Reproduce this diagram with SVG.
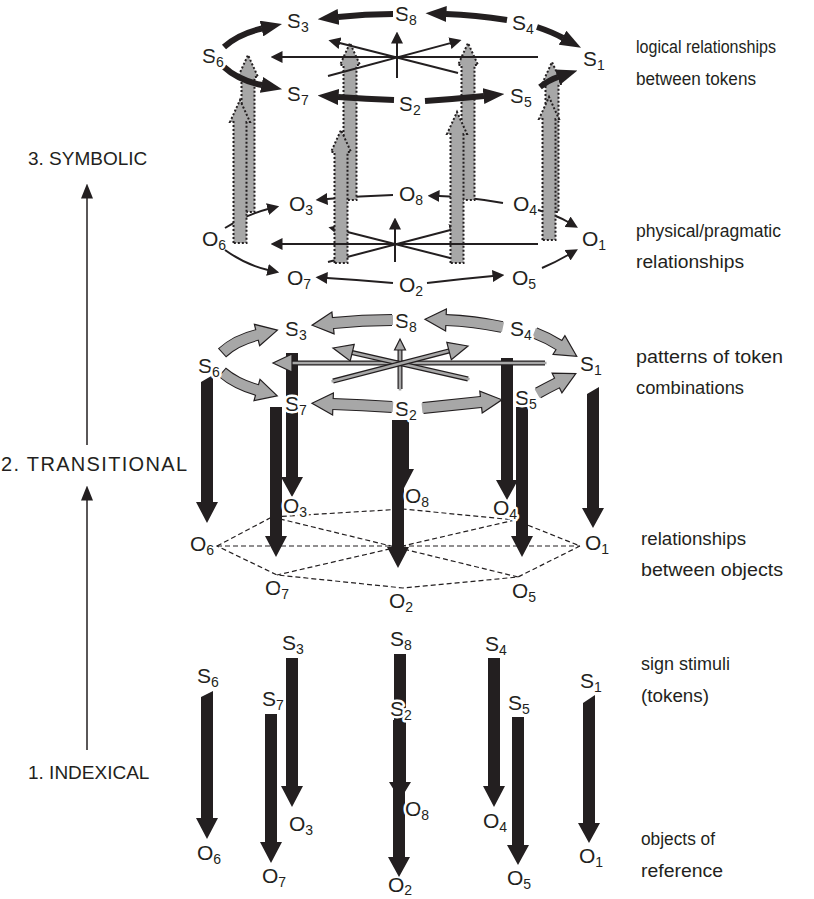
<svg xmlns="http://www.w3.org/2000/svg" width="814" height="899" viewBox="0 0 814 899">
<style>
text{font-family:"Liberation Sans",Arial,sans-serif;fill:#231f20}
.lab{font-size:21px}
.sub{font-size:14px}
.halo{stroke:#fff;stroke-width:5px;paint-order:stroke;stroke-linejoin:round}
.side{font-size:17.5px}
.lvl{font-size:19px}
.thk{fill:none;stroke:#231f20;stroke-width:6;marker-end:url(#hk)}
.thn{fill:none;stroke:#231f20;stroke-width:2;marker-end:url(#ht)}
.gdot{fill:#a7a7a7;stroke:#231f20;stroke-width:2;stroke-dasharray:2 2}
.bar{fill:#231f20}
.gout{fill:none;stroke:#231f20;stroke-width:12}
.gin{fill:none;stroke:#a7a7a7;stroke-width:10}
.ghead{fill:#a7a7a7;stroke:#231f20;stroke-width:1.2;stroke-linejoin:miter}
.dout{fill:none;stroke:#231f20;stroke-width:5}
.din{fill:none;stroke:#a7a7a7;stroke-width:2.6}
.dash{fill:none;stroke:#231f20;stroke-width:1.2;stroke-dasharray:5 3}
.axis{fill:none;stroke:#231f20;stroke-width:1.5}
</style>
<defs>
<marker id="hk" viewBox="0 0 21 16" refX="0.5" refY="8" markerWidth="21" markerHeight="16" markerUnits="userSpaceOnUse" orient="auto"><path d="M0,0 L21,8 L0,16 z" fill="#231f20"/></marker>
<marker id="ht" viewBox="0 0 12 12" refX="0.5" refY="6" markerWidth="12" markerHeight="12" markerUnits="userSpaceOnUse" orient="auto"><path d="M0,0 L12,6 L0,12 z" fill="#231f20"/></marker>
<marker id="ha" viewBox="0 0 15 12" refX="0.5" refY="6" markerWidth="15" markerHeight="12" markerUnits="userSpaceOnUse" orient="auto"><path d="M0,0 L15,6 L0,12 z" fill="#231f20"/></marker>
</defs>

<!-- left level axis -->
<g id="axis">
<path class="axis" d="M87,750 L87,500" marker-end="url(#ha)"/>
<path class="axis" d="M87,445 L87,198" marker-end="url(#ha)"/>
<text class="lvl" x="28" y="165">3. SYMBOLIC</text>
<text class="lvl" x="1" y="471" style="font-size:20px" textLength="186">2. TRANSITIONAL</text>
<text class="lvl" x="28" y="779">1. INDEXICAL</text>
</g>

<!-- right captions -->
<g id="captions">
<text class="side" x="636" y="53" textLength="140" lengthAdjust="spacingAndGlyphs">logical relationships</text>
<text class="side" x="636" y="85" textLength="120" lengthAdjust="spacingAndGlyphs">between tokens</text>
<text class="side" x="636" y="237" textLength="145" lengthAdjust="spacingAndGlyphs">physical/pragmatic</text>
<text class="side" x="636" y="268" textLength="108" lengthAdjust="spacingAndGlyphs">relationships</text>
<text class="side" x="636" y="363" textLength="147" lengthAdjust="spacingAndGlyphs">patterns of token</text>
<text class="side" x="636" y="394" textLength="108" lengthAdjust="spacingAndGlyphs">combinations</text>
<text class="side" x="641" y="545" textLength="105" lengthAdjust="spacingAndGlyphs">relationships</text>
<text class="side" x="641" y="576" textLength="142" lengthAdjust="spacingAndGlyphs">between objects</text>
<text class="side" x="641" y="670" textLength="89" lengthAdjust="spacingAndGlyphs">sign stimuli</text>
<text class="side" x="641" y="702" textLength="68" lengthAdjust="spacingAndGlyphs">(tokens)</text>
<text class="side" x="641" y="845" textLength="74" lengthAdjust="spacingAndGlyphs">objects of</text>
<text class="side" x="641" y="877" textLength="82" lengthAdjust="spacingAndGlyphs">reference</text>
</g>

<!-- ===== SYMBOLIC LEVEL ===== -->
<g id="connectors-symbolic-objects">
<path class="thn" d="M225,228 Q248,214 268,209"/>
<path class="thn" d="M225,250 Q246,265 268,270"/>
<path class="thn" d="M393,195 Q360,196 327,199"/>
<path class="thn" d="M393,283 Q360,280 327,278"/>
<path class="thn" d="M503,203 Q470,197 439,196"/>
<path class="thn" d="M538,210 Q556,215 568,222"/>
<path class="thn" d="M427,283 Q460,279 493,276"/>
<path class="thn" d="M542,268 Q556,262 568,255"/>
<path class="thn" d="M395,262 L395,229"/>
<path class="thn" d="M462,261 L339.6,230"/>
<path class="thn" d="M328,262 L450.4,230"/>
</g>

<g id="indexical-uplinks">
<path class="gdot" d="M241.5,212 L241.5,77 L238,77 L248,55 L258,77 L254.5,77 L254.5,212 Z"/>
<path class="gdot" d="M343.5,200 L343.5,65 L340,65 L350,43 L360,65 L356.5,65 L356.5,200 Z"/>
<path class="gdot" d="M461.5,200 L461.5,65 L458,65 L468,43 L478,65 L474.5,65 L474.5,200 Z"/>
<path class="gdot" d="M545.5,212 L545.5,84 L542,84 L552,62 L562,84 L558.5,84 L558.5,212 Z"/>
<path class="gdot" d="M233.5,243 L233.5,122 L230,122 L240,100 L250,122 L246.5,122 L246.5,243 Z"/>
<path class="gdot" d="M334.5,263 L334.5,152 L331,152 L341,130 L351,152 L347.5,152 L347.5,263 Z"/>
<path class="gdot" d="M450.5,263 L450.5,134 L447,134 L457,112 L467,134 L463.5,134 L463.5,263 Z"/>
<path class="gdot" d="M542.5,240 L542.5,119 L539,119 L549,97 L559,119 L555.5,119 L555.5,240 Z"/>
</g>

<g id="connectors-symbolic-tokens">
<path class="thn" d="M538,244 L282,244"/>
<path class="thn" d="M538,57 L282,57"/>
<path class="thn" d="M397,78 L397,43"/>
<path class="thn" d="M458,73 L339.6,43"/>
<path class="thn" d="M328,76 L450.4,43.1"/>
<path class="thk" d="M224,47 Q238,34 262,28.5"/>
<path class="thk" d="M224,67 Q238,80 262,85"/>
<path class="thk" d="M393,14 Q365,14 338,17"/>
<path class="thk" d="M394,100 Q366,99 338,97"/>
<path class="thk" d="M507,20 Q475,15 446,14"/>
<path class="thk" d="M537,27 Q552,32 563,38"/>
<path class="thk" d="M425,101 Q455,99 484,96"/>
<path class="thk" d="M540,87 Q549,80 558,77"/>
</g>

<g id="symbolic-nodes">
<g id="sym-S3"><text class="lab halo" x="287" y="28">S<tspan class="sub" dy="4">3</tspan></text></g>
<g id="sym-S8"><text class="lab halo" x="395" y="21">S<tspan class="sub" dy="4">8</tspan></text></g>
<g id="sym-S4"><text class="lab halo" x="512" y="30">S<tspan class="sub" dy="4">4</tspan></text></g>
<g id="sym-S6"><text class="lab halo" x="202" y="63">S<tspan class="sub" dy="4">6</tspan></text></g>
<g id="sym-S1"><text class="lab halo" x="583" y="66">S<tspan class="sub" dy="4">1</tspan></text></g>
<g id="sym-S7"><text class="lab halo" x="287" y="101">S<tspan class="sub" dy="4">7</tspan></text></g>
<g id="sym-S2"><text class="lab halo" x="399" y="111">S<tspan class="sub" dy="4">2</tspan></text></g>
<g id="sym-S5"><text class="lab halo" x="510" y="103">S<tspan class="sub" dy="4">5</tspan></text></g>
<g id="sym-O3"><text class="lab" x="289" y="211">O<tspan class="sub" dy="4">3</tspan></text></g>
<g id="sym-O8"><text class="lab" x="399" y="201">O<tspan class="sub" dy="4">8</tspan></text></g>
<g id="sym-O4"><text class="lab" x="513" y="211">O<tspan class="sub" dy="4">4</tspan></text></g>
<g id="sym-O6"><text class="lab" x="202" y="246">O<tspan class="sub" dy="4">6</tspan></text></g>
<g id="sym-O1"><text class="lab" x="582" y="246">O<tspan class="sub" dy="4">1</tspan></text></g>
<g id="sym-O7"><text class="lab" x="287" y="285">O<tspan class="sub" dy="4">7</tspan></text></g>
<g id="sym-O2"><text class="lab" x="399" y="292">O<tspan class="sub" dy="4">2</tspan></text></g>
<g id="sym-O5"><text class="lab" x="512" y="285">O<tspan class="sub" dy="4">5</tspan></text></g>
</g>

<!-- ===== TRANSITIONAL LEVEL ===== -->
<g id="connectors-transitional-objects">
<path class="dash" d="M217,546 L272,517 L403,509 L515,520 L580,546 L518,577 L403,588 L277,575 Z"/>
<path class="dash" d="M217,546 L580,546"/>
<path class="dash" d="M272,517 L518,577"/>
<path class="dash" d="M515,520 L277,575"/>
</g>

<g id="transitional-arrows">
<path class="bar" d="M201,382 L213,375 L213,502 L218,502 L207,523 L196,502 L201,502 Z"/>
<path class="bar" d="M286,353 L298,353 L298,477 L303,477 L292,497 L281,477 L286,477 Z"/>
<path class="bar" d="M270,407 L282,407 L282,536 L287,536 L276,557 L265,536 L270,536 Z"/>
<path class="bar" d="M397,420 L409,420 L409,469 L414,469 L403,490 L392,469 L397,469 Z"/>
<path class="bar" d="M392,420 L404,420 L404,547 L409,547 L398,568 L387,547 L392,547 Z"/>
<path class="bar" d="M501,358 L513,358 L513,480 L518,480 L507,500 L496,480 L501,480 Z"/>
<path class="bar" d="M516,407 L528,407 L528,536 L533,536 L522,557 L511,536 L516,536 Z"/>
<path class="bar" d="M587,394 L599,387 L599,508 L604,508 L593,528 L582,508 L587,508 Z"/>
</g>

<g id="connectors-transitional-tokens">
<path class="dout" d="M545,363 L291,363"/><path class="din" d="M546.5,363 L290,363"/>
<polygon class="ghead" points="292,354 273,363 292,372"/>
<path class="dout" d="M400,389 L400,349"/><path class="din" d="M400,390.5 L400,348"/>
<polygon class="ghead" points="394.5,350 400,339 405.5,350"/>
<path class="dout" d="M468,379 L352,352.5"/><path class="din" d="M469.5,379.3 L350.5,352.2"/>
<polygon class="ghead" points="354.2,344.4 333,348 350.2,361.0"/>
<path class="dout" d="M333,381 L449,351"/><path class="din" d="M331.5,381.4 L450.5,350.6"/>
<polygon class="ghead" points="446.8,342.3 468,346 451.3,359.7"/>
<path class="gout" d="M222,353 Q236,340 257,335"/>
<polygon class="ghead" points="259.6,345.7 277.4,330.1 254.4,324.3"/>
<path class="gin" d="M222.7,352.2 Q236,340 258.9,334.5"/>
<path class="gout" d="M222,372 Q236,384 257,390"/>
<polygon class="ghead" points="254,400.6 277.2,395.8 260,379.4"/>
<path class="gin" d="M222.7,372.7 Q236,384 258.9,390.5"/>
<path class="gout" d="M392,320 Q362,320 333,323"/>
<polygon class="ghead" points="334.1,333.9 312.1,325.2 331.9,312.1"/>
<path class="gin" d="M393,320 Q362,320 331,323.2"/>
<path class="gout" d="M392,407 Q362,405 333,404"/>
<polygon class="ghead" points="332.6,415 312,403.3 333.4,393"/>
<path class="gin" d="M393,407 Q362,405 331,403.9"/>
<path class="gout" d="M502,327 Q474,321 446,320"/>
<polygon class="ghead" points="445.6,331 425,319.3 446.4,309"/>
<path class="gin" d="M503,327.2 Q474,321 444,319.9"/>
<path class="gout" d="M535,333 Q548,338 559,345"/>
<polygon class="ghead" points="553.1,354.3 576.7,356.3 564.9,335.7"/>
<path class="gin" d="M534.1,332.7 Q548,338 560.7,346.1"/>
<path class="gout" d="M423,408 Q453,405 481,402"/>
<polygon class="ghead" points="482.2,412.9 501.9,399.8 479.8,391.1"/>
<path class="gin" d="M422,408.1 Q453,405 483,401.8"/>
<path class="gout" d="M538,393 Q547,388 557,383"/>
<polygon class="ghead" points="561.9,392.8 575.8,373.6 552.1,373.2"/>
<path class="gin" d="M537.1,393.5 Q547,388 558.8,382.1"/>
</g>

<g id="transitional-nodes">
<g id="tr-S3"><text class="lab halo" x="285" y="336">S<tspan class="sub" dy="4">3</tspan></text></g>
<g id="tr-S8"><text class="lab halo" x="395" y="328">S<tspan class="sub" dy="4">8</tspan></text></g>
<g id="tr-S4"><text class="lab halo" x="510" y="336">S<tspan class="sub" dy="4">4</tspan></text></g>
<g id="tr-S6"><text class="lab halo" x="198" y="373">S<tspan class="sub" dy="4">6</tspan></text></g>
<g id="tr-S1"><text class="lab halo" x="580" y="371">S<tspan class="sub" dy="4">1</tspan></text></g>
<g id="tr-S7"><text class="lab halo" x="285" y="411">S<tspan class="sub" dy="4">7</tspan></text></g>
<g id="tr-S2"><text class="lab halo" x="395" y="416">S<tspan class="sub" dy="4">2</tspan></text></g>
<g id="tr-S5"><text class="lab halo" x="515" y="405">S<tspan class="sub" dy="4">5</tspan></text></g>
<g id="tr-O3"><text class="lab halo" x="283" y="513">O<tspan class="sub" dy="4">3</tspan></text></g>
<g id="tr-O8"><text class="lab halo" x="405" y="503">O<tspan class="sub" dy="4">8</tspan></text></g>
<g id="tr-O4"><text class="lab halo" x="493" y="515">O<tspan class="sub" dy="4">4</tspan></text></g>
<g id="tr-O6"><text class="lab halo" x="190" y="551">O<tspan class="sub" dy="4">6</tspan></text></g>
<g id="tr-O1"><text class="lab halo" x="585" y="550">O<tspan class="sub" dy="4">1</tspan></text></g>
<g id="tr-O7"><text class="lab halo" x="265" y="595">O<tspan class="sub" dy="4">7</tspan></text></g>
<g id="tr-O2"><text class="lab halo" x="389" y="608">O<tspan class="sub" dy="4">2</tspan></text></g>
<g id="tr-O5"><text class="lab halo" x="512" y="598">O<tspan class="sub" dy="4">5</tspan></text></g>
</g>

<!-- ===== INDEXICAL LEVEL ===== -->
<g id="indexical-arrows">
<path class="bar" d="M201,697 L213,691 L213,818 L218,818 L207,839 L196,818 L201,818 Z"/>
<path class="bar" d="M265,714 L277,714 L277,842 L282,842 L271,863 L260,842 L265,842 Z"/>
<path class="bar" d="M286,658 L298,658 L298,786 L303,786 L292,807 L281,786 L286,786 Z"/>
<path class="bar" d="M394,654 L406,654 L406,782 L411,782 L400,800 L389,782 L394,782 Z"/>
<path class="bar" d="M393,720 L405,720 L405,857 L410,857 L399,877 L388,857 L393,857 Z"/>
<path class="bar" d="M488,658 L500,658 L500,786 L505,786 L494,807 L483,786 L488,786 Z"/>
<path class="bar" d="M512,717 L524,717 L524,845 L529,845 L518,865 L507,845 L512,845 Z"/>
<path class="bar" d="M583,703 L595,695 L595,823 L600,823 L589,843 L578,823 L583,823 Z"/>
</g>

<g id="indexical-nodes">
<g id="ix-S6"><text class="lab" x="197" y="683">S<tspan class="sub" dy="4">6</tspan></text></g>
<g id="ix-S3"><text class="lab" x="282" y="650">S<tspan class="sub" dy="4">3</tspan></text></g>
<g id="ix-S8"><text class="lab" x="390" y="646">S<tspan class="sub" dy="4">8</tspan></text></g>
<g id="ix-S4"><text class="lab" x="485" y="651">S<tspan class="sub" dy="4">4</tspan></text></g>
<g id="ix-S7"><text class="lab" x="262" y="706">S<tspan class="sub" dy="4">7</tspan></text></g>
<g id="ix-S2"><text class="lab halo" x="390" y="716">S<tspan class="sub" dy="4">2</tspan></text></g>
<g id="ix-S5"><text class="lab" x="508" y="710">S<tspan class="sub" dy="4">5</tspan></text></g>
<g id="ix-S1"><text class="lab" x="580" y="688">S<tspan class="sub" dy="4">1</tspan></text></g>
<g id="ix-O6"><text class="lab" x="197" y="860">O<tspan class="sub" dy="4">6</tspan></text></g>
<g id="ix-O3"><text class="lab" x="289" y="831">O<tspan class="sub" dy="4">3</tspan></text></g>
<g id="ix-O8"><text class="lab halo" x="405" y="816">O<tspan class="sub" dy="4">8</tspan></text></g>
<g id="ix-O4"><text class="lab" x="483" y="828">O<tspan class="sub" dy="4">4</tspan></text></g>
<g id="ix-O7"><text class="lab" x="262" y="883">O<tspan class="sub" dy="4">7</tspan></text></g>
<g id="ix-O2"><text class="lab" x="388" y="892">O<tspan class="sub" dy="3">2</tspan></text></g>
<g id="ix-O5"><text class="lab" x="507" y="885">O<tspan class="sub" dy="4">5</tspan></text></g>
<g id="ix-O1"><text class="lab" x="579" y="863">O<tspan class="sub" dy="4">1</tspan></text></g>
</g>
</svg>
